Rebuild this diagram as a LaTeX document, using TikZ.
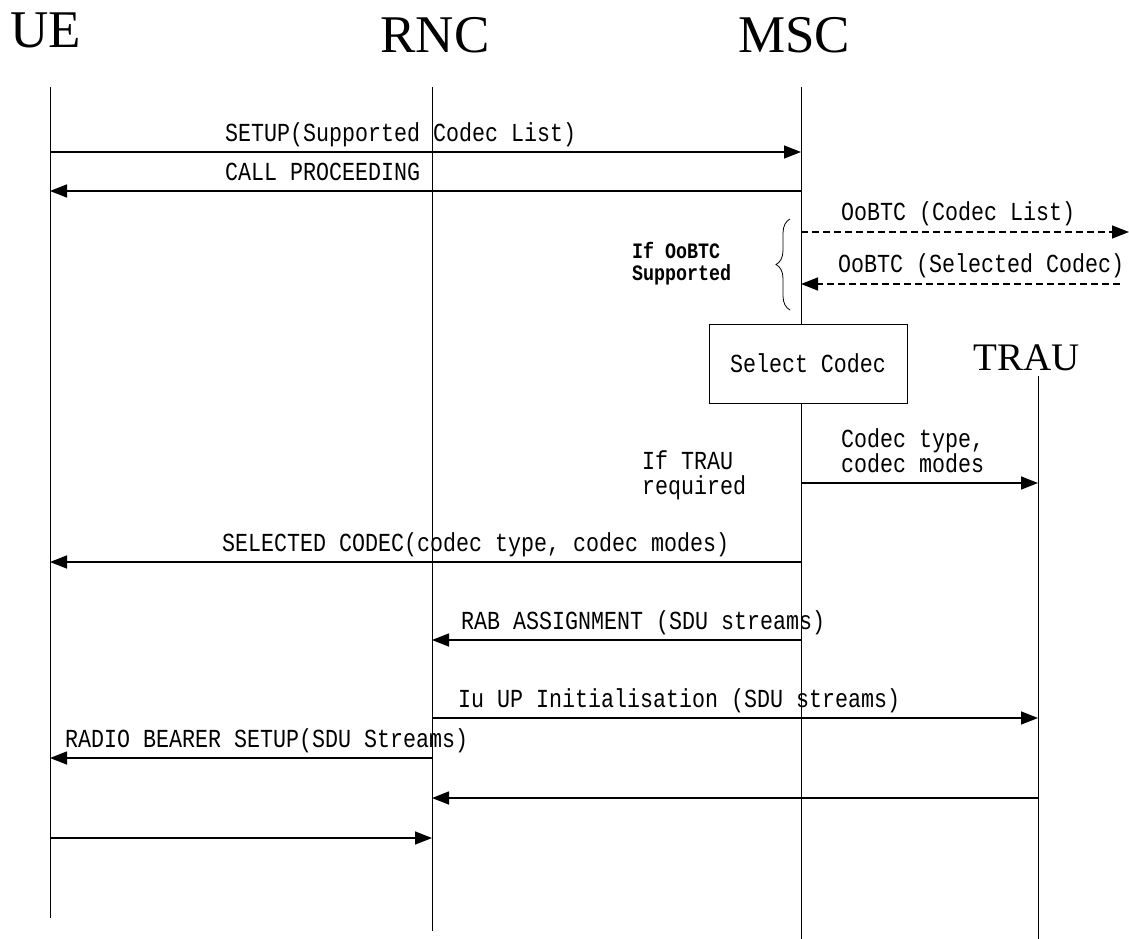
\documentclass[tikz,border=0pt]{standalone}
\usepackage{fontspec}
\setmainfont{Liberation Serif}
\newfontfamily\msgfont[FakeStretch=0.833]{Liberation Mono}
\usetikzlibrary{arrows.meta, decorations.pathreplacing}

\begin{document}
\begin{tikzpicture}[x=1pt, y=-1pt,
    entity/.style={font=\fontsize{53}{60}\selectfont, inner sep=0pt, anchor=base},
    msgtext/.style={font=\msgfont\fontsize{26}{28}\selectfont, inner sep=0pt, anchor=base west},
    note/.style={font=\msgfont\fontsize{26}{24}\selectfont, inner sep=0pt, anchor=west, align=left},
    lifeline/.style={line width=1pt},
    msg/.style={line width=1.5pt, -{Triangle[length=17pt,width=13pt]}},
    optmsg/.style={msg, dash pattern=on 7pt off 4pt}]
  \useasboundingbox (0,0) rectangle (1129,939);

  %% *** Entities ***
  \node[entity] (ue) at (46,48) {UE};
  \node[entity] (rnc) at (435,53) {RNC};
  \node[entity] (msc) at (794,53) {MSC};
  \node[entity, font=\fontsize{39}{44}\selectfont] (trau) at (1027,370) {TRAU};

  \coordinate (ueL) at (50,87);
  \coordinate (rncL) at (432,87);
  \coordinate (mscL) at (801,87);
  \coordinate (trauL) at (1038,376);
  \coordinate (ue-end) at (50,918);
  \coordinate (rnc-end) at (432,931);
  \coordinate (msc-end) at (801,939);
  \coordinate (trau-end) at (1038,939);

  \node[draw, line width=1pt, minimum width=198, minimum height=79,
        font=\msgfont\fontsize{26}{28}\selectfont] (select) at (808,363.5) {Select Codec};

  \draw[lifeline] (ueL) -- (ue-end);
  \draw[lifeline] (rncL) -- (rnc-end);
  \draw[lifeline] (mscL) -- (mscL |- select.north);
  \draw[lifeline] (mscL |- select.south) -- (msc-end);
  \draw[lifeline] (trauL) -- (trau-end);

  %% *** Rows ***
  \coordinate (y-setup) at (0,152);
  \coordinate (y-proc) at (0,191);
  \coordinate (y-oob1) at (0,232);
  \coordinate (y-oob2) at (0,284);
  \coordinate (y-trau) at (0,483);
  \coordinate (y-sel) at (0,562);
  \coordinate (y-rab) at (0,640);
  \coordinate (y-iu) at (0,718);
  \coordinate (y-rb) at (0,758);
  \coordinate (y-back) at (0,798);
  \coordinate (y-last) at (0,838);
  \coordinate (ext1) at (1129,232);
  \coordinate (ext2) at (1120,284);

  %% *** Messages ***
  \draw[msg] (ueL |- y-setup) -- (mscL |- y-setup);
  \node[msgtext] (setup) at (225,141) {SETUP(Supported Codec List)};
  \draw[msg] (mscL |- y-proc) -- (ueL |- y-proc);
  \node[msgtext] (proc) at (225,180) {CALL PROCEEDING};

  \draw[optmsg] (mscL |- y-oob1) -- (ext1);
  \node[msgtext] (oob1) at (841,220) {OoBTC (Codec List)};
  \draw[optmsg] (ext2) -- (mscL |- y-oob2);
  \node[msgtext] (oob2) at (838,272) {OoBTC (Selected Codec)};
  \coordinate (brace-top) at (790,219);
  \coordinate (brace-bot) at (790,310);
  \draw[line width=0.8pt, decorate, decoration={brace, amplitude=14pt}] (brace-bot) -- (brace-top);
  \node[note, font=\msgfont\bfseries\fontsize{22}{22}\selectfont] (oob-if) at (632,264) {If OoBTC\\Supported};

  \draw[msg] (mscL |- y-trau) -- (trauL |- y-trau);
  \node[note] (types) at (841,451) {Codec type,\\codec modes};
  \node[note, font=\msgfont\fontsize{26}{25}\selectfont] (trau-if) at (642,475) {If TRAU\\required};

  \draw[msg] (mscL |- y-sel) -- (ueL |- y-sel);
  \node[msgtext] (sel) at (222,551) {SELECTED CODEC(codec type, codec modes)};
  \draw[msg] (mscL |- y-rab) -- (rncL |- y-rab);
  \node[msgtext] (rab) at (461,629) {RAB ASSIGNMENT (SDU streams)};
  \draw[msg] (rncL |- y-iu) -- (trauL |- y-iu);
  \node[msgtext] (iu) at (458,707) {Iu UP Initialisation (SDU streams)};
  \draw[msg] (rncL |- y-rb) -- (ueL |- y-rb);
  \node[msgtext] (rb) at (65,747) {RADIO BEARER SETUP(SDU Streams)};
  \draw[msg] (trauL |- y-back) -- (rncL |- y-back);
  \draw[msg] (ueL |- y-last) -- (rncL |- y-last);
\end{tikzpicture}
\end{document}
